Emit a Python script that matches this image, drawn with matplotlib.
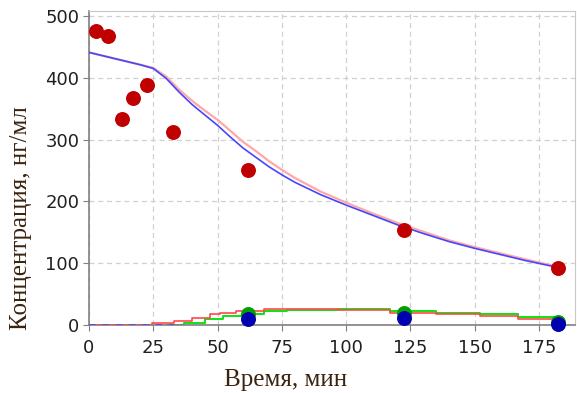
import numpy as np
import matplotlib.pyplot as plt

# measured points
t_red = [2.7, 7.3, 12.7, 17.2, 22.5, 32.5, 62.0, 122.5, 182.5]
c_red = [476, 467, 334, 368, 388, 312, 251, 153, 92]
t_grn = [62.0, 122.5, 182.5]
c_grn = [17, 20, 5]
t_blu = [62.0, 122.5, 182.5]
c_blu = [9, 11, 1]

# model curves (parent)
t_fit = [0, 5, 10, 15, 20, 25, 30, 35, 40, 45, 50, 55, 60, 65, 70, 75, 80, 90,
         100, 110, 120, 130, 140, 150, 160, 170, 182.5]
c_fit_blue = [441, 436, 431, 426, 421, 415, 399, 377, 357, 340, 323, 304, 286, 271,
              256, 243, 231, 211, 194, 178, 162, 148, 135, 124, 114, 104, 93]
c_fit_pink = [441, 436, 431, 426, 421, 416, 402, 381, 363, 347, 332, 314, 296, 281,
              265, 251, 238, 216, 198, 181, 165, 151, 137, 126, 116, 106, 94]

# model curves (metabolite), stepped
t_met_red = [0, 24.5, 24.5, 33, 33, 40, 40, 47, 47, 51, 51, 57, 57, 68, 68, 97,
             97, 117, 117, 135, 135, 152, 152, 167, 167, 182.5]
c_met_red = [0, 0, 3, 3, 7, 7, 12, 12, 17, 17, 20, 20, 23, 23, 26, 26,
             24, 24, 20, 20, 17, 17, 14, 14, 10, 10]
t_met_grn = [30, 37, 37, 45, 45, 52, 52, 60, 60, 68, 68, 77, 77, 97, 97, 117,
             117, 135, 135, 152, 152, 167, 167, 182.5]
c_met_grn = [0, 0, 4, 4, 9, 9, 14, 14, 18, 18, 22, 22, 25, 25, 26, 26,
             23, 23, 20, 20, 18, 18, 13, 13]
t_met_blu = [0, 33]
c_met_blu = [0, 0]

fig = plt.figure(figsize=(5.77, 3.93), dpi=100)
ax = fig.add_axes([89/577, 68/393, 486/577, 314/393])

ax.plot(t_fit, c_fit_pink, color='#ffa8a8', lw=1.6, zorder=2)
ax.plot(t_fit, c_fit_blue, color='#4646ff', lw=1.2, zorder=3)
ax.plot(t_met_red, c_met_red, color='#ff4848', lw=1.2, zorder=3)
ax.plot(t_met_grn, c_met_grn, color='#10e010', lw=1.4, zorder=2)
ax.plot(t_met_blu, c_met_blu, color='#4646ff', lw=1.2, ls=(0, (4, 4)), zorder=4)

ax.scatter(t_grn, c_grn, s=95, color='#00a000', zorder=5, clip_on=False)
ax.scatter(t_blu, c_blu, s=95, color='#0000b0', zorder=6, clip_on=False)
ax.scatter(t_red, c_red, s=95, color='#c00000', zorder=6, clip_on=False)

ax.set_xlim(0, 189)
ax.set_ylim(0, 508)
ax.set_xticks([0, 25, 50, 75, 100, 125, 150, 175])
ax.set_yticks([0, 100, 200, 300, 400, 500])
ax.grid(True, color='#d0d0d0', ls=(0, (4, 3)), lw=0.9)
ax.set_axisbelow(True)

for s in ['top', 'right']:
    ax.spines[s].set_color('#c8c8c8')
for s in ['left', 'bottom']:
    ax.spines[s].set_color('#808080')
    ax.spines[s].set_linewidth(1.2)
ax.tick_params(length=4, color='#808080', labelsize=13, labelcolor='#202020')
ax.tick_params(axis='x', pad=6)
ax.tick_params(axis='y', pad=3)
for lab in ax.get_xticklabels() + ax.get_yticklabels():
    lab.set_family('DejaVu Sans')

ax.set_xlabel('Время, мин', family='Liberation Serif', fontsize=18,
              color='#3a2410')
ax.set_ylabel('Концентрация, нг/мл', family='Liberation Serif', fontsize=18,
              color='#3a2410')
ax.xaxis.set_label_coords(0.405, -0.14)
ax.yaxis.set_label_coords(-0.117, 0.34)

plt.savefig('out.png', dpi=100)
